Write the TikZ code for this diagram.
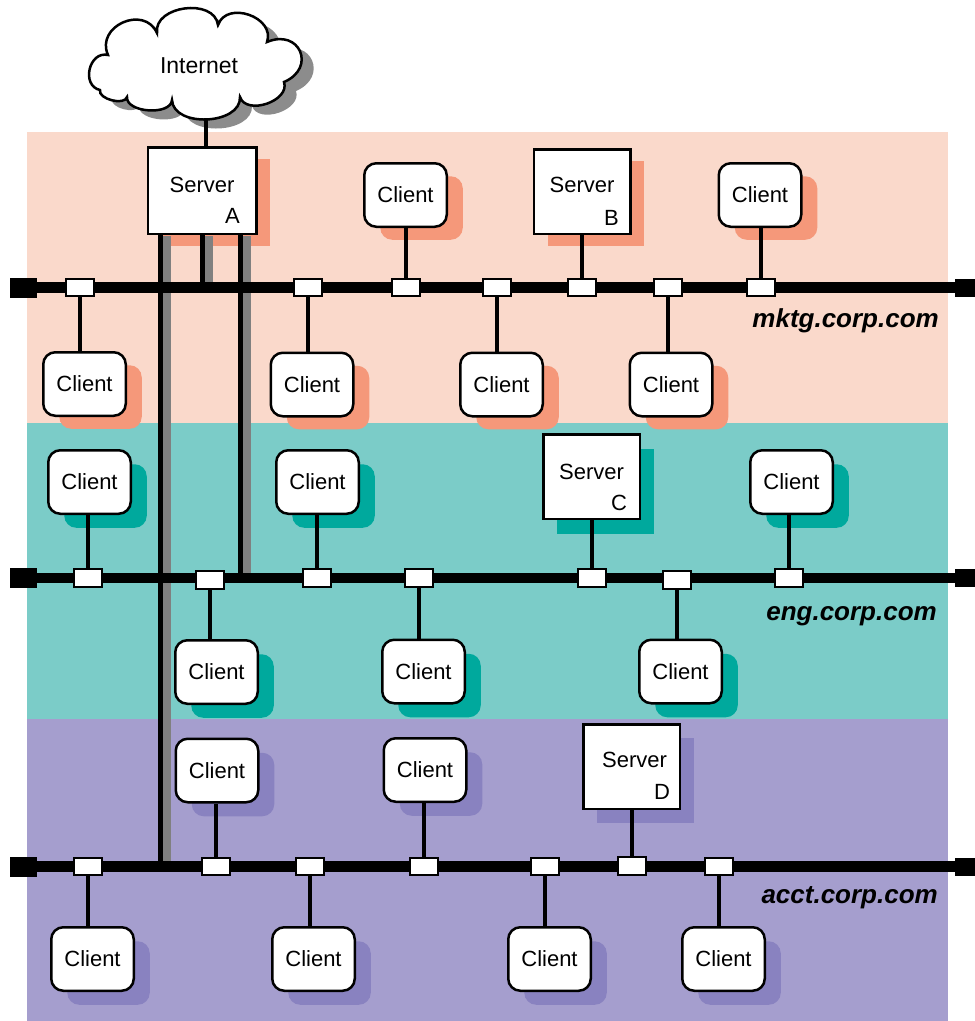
\documentclass[tikz,border=0pt]{standalone}
\usepackage{fontspec}
\setmainfont{Liberation Sans}
\usetikzlibrary{shadows,calc}
\pgfdeclarelayer{bg}
\pgfdeclarelayer{lines}
\pgfdeclarelayer{top}
\pgfsetlayers{bg,main,lines,top}
\definecolor{mbg}{HTML}{FAD9CB}
\definecolor{msh}{HTML}{F5987A}
\definecolor{ebg}{HTML}{7BCCC8}
\definecolor{esh}{HTML}{00A99D}
\definecolor{abg}{HTML}{A59ECE}
\definecolor{ash}{HTML}{8982C0}
\definecolor{glinec}{HTML}{808080}
\definecolor{csh}{HTML}{8C8C8C}
\newcommand\cloudshape{(100,90) to[bend left=90,looseness=1.4] (108,55) to[bend left=90,looseness=1.5] (157,33) to[bend left=90,looseness=1.15] (218,25) to[bend left=90,looseness=1.3] (267,42) to[bend left=90,looseness=2.1] (284,82) to[bend left=90,looseness=1.1] (240,97) to[bend left=90,looseness=1.05] (172,100) to[bend left=90,looseness=0.9] (127,97) to[bend left=90,looseness=0.85] (100,90) -- cycle}
\begin{document}
\begin{tikzpicture}[x=1pt,y=-1pt,
  every node/.style={inner sep=0pt},
  nbox/.style={draw=black, line width=2.5pt, fill=white},
  client/.style={nbox, rounded corners=12pt, minimum width=82.5pt, minimum height=63.5pt, font=\fontsize{22}{26}\selectfont},
  server/.style={nbox, minimum width=96.5pt, minimum height=84.5pt},
  stext/.style={font=\fontsize{22}{26}\selectfont},
  shmk/.style={drop shadow={shadow xshift=16pt, shadow yshift=-13pt, fill=msh, opacity=1}},
  shen/.style={drop shadow={shadow xshift=16pt, shadow yshift=-14pt, fill=esh, opacity=1}},
  shac/.style={drop shadow={shadow xshift=16pt, shadow yshift=-14pt, fill=ash, opacity=1}},
  svmk/.style={drop shadow={shadow xshift=14pt, shadow yshift=-12pt, fill=msh, opacity=1}},
  sven/.style={drop shadow={shadow xshift=14pt, shadow yshift=-15pt, fill=esh, opacity=1}},
  svac/.style={drop shadow={shadow xshift=14pt, shadow yshift=-14pt, fill=ash, opacity=1}},
  tapbox/.style={draw=black, line width=1.7pt, fill=white, minimum width=27.5pt, minimum height=17.5pt},
  capL/.style={fill=black, minimum width=27pt, minimum height=20pt},
  capR/.style={fill=black, minimum width=20pt, minimum height=18pt},
  busline/.style={line width=10.5pt},
  conn/.style={line width=4.5pt},
  blk/.style={line width=5.5pt},
  gry/.style={draw=glinec, line width=7.5pt},
  lbl/.style={font=\fontsize{26}{30}\selectfont\bfseries\itshape, anchor=base east}
]
\useasboundingbox (0,0) rectangle (975,1021);

\begin{pgfonlayer}{bg}
\fill[mbg] (27,132) rectangle (948,423);
\fill[ebg] (27,423) rectangle (948,719);
\fill[abg] (27,719) rectangle (948,1021);
\end{pgfonlayer}

% Internet cloud and server A
\node[server, svmk, minimum width=108.5pt, minimum height=86.5pt] (SA) at (202,190.5) {};
\fill[csh, shift={(12,9)}] \cloudshape;
\coordinate (cb) at (206,100);
\draw[conn] (cb) -- (cb |- SA.north);
\draw[line width=2.5pt, fill=white] \cloudshape;
\node[stext, font=\fontsize{23}{27}\selectfont] (inet) at (199,66) {Internet};

\node[stext] (SAs) at ($(SA.north)+(0,39)$) {Server};
\node[stext] (SAl) at ($(SA.south east)+(-25,-19)$) {A};

% mktg
\node[client, shmk] (C1) at (405.5,195) {Client};
\node[server, svmk] (SB) at (582,191.5) {};
\node[stext] (SBs) at ($(SB.north)+(0,37)$) {Server};
\node[stext] (SBl) at ($(SB.south east)+(-20,-17)$) {B};
\node[client, shmk] (C2) at (760,195) {Client};
\node[client, shmk] (C3) at (84.5,384) {Client};
\node[client, shmk] (C4) at (312,384.5) {Client};
\node[client, shmk] (C5) at (501.5,384.5) {Client};
\node[client, shmk] (C6) at (671,384.5) {Client};

% eng
\node[client, shen] (C7) at (89.5,482) {Client};
\node[client, shen] (C8) at (317.5,482) {Client};
\node[server, sven] (SC) at (591.5,476.5) {};
\node[stext] (SCs) at ($(SC.north)+(0,39)$) {Server};
\node[stext] (SCl) at ($(SC.south east)+(-22,-17)$) {C};
\node[client, shen] (C9) at (791.5,482) {Client};
\node[client, shen] (C10) at (216.5,672) {Client};
\node[client, shen] (C11) at (423.5,671.5) {Client};
\node[client, shen] (C12) at (680.5,671.5) {Client};

% acct
\node[client, shac] (C13) at (217,770.5) {Client};
\node[client, shac] (C14) at (425,770) {Client};
\node[server, svac] (SD) at (631.5,766.5) {};
\node[stext] (SDs) at ($(SD.north)+(3,37)$) {Server};
\node[stext] (SDl) at ($(SD.south east)+(-19,-18)$) {D};
\node[client, shac] (C15) at (92.5,959) {Client};
\node[client, shac] (C16) at (313.5,959) {Client};
\node[client, shac] (C17) at (549.5,959) {Client};
\node[client, shac] (C18) at (723.5,959) {Client};

% labels
\node[lbl] (lm) at (939,327) {mktg.corp.com};
\node[lbl] (le) at (937,620) {eng.corp.com};
\node[lbl] (la) at (938,903.5) {acct.corp.com};

\begin{pgfonlayer}{top}
\node[capL] (mL) at (23.5,287.5) {};
\node[capR] (mR) at (965,287.5) {};
\node[capL] (eL) at (23.5,578) {};
\node[capR] (eR) at (965,578) {};
\node[capL] (aL) at (23.5,866.5) {};
\node[capR] (aR) at (965,866.5) {};
\node[tapbox] (tm1) at (80,287.5) {};
\node[tapbox] (tm2) at (308,287.5) {};
\node[tapbox] (tm3) at (406,287.5) {};
\node[tapbox] (tm4) at (497,287.5) {};
\node[tapbox] (tm5) at (582,287.5) {};
\node[tapbox] (tm6) at (668,287.5) {};
\node[tapbox] (tm7) at (761,287.5) {};
\node[tapbox] (te1) at (88,578) {};
\node[tapbox] (te2) at (210,580) {};
\node[tapbox] (te3) at (317,578) {};
\node[tapbox] (te4) at (419,578) {};
\node[tapbox] (te5) at (592,578) {};
\node[tapbox] (te6) at (677,580) {};
\node[tapbox] (te7) at (789,578) {};
\node[tapbox] (ta1) at (88,866.5) {};
\node[tapbox] (ta2) at (216,866.5) {};
\node[tapbox] (ta3) at (310,866.5) {};
\node[tapbox] (ta4) at (424,866.5) {};
\node[tapbox] (ta5) at (545,866.5) {};
\node[tapbox] (ta6) at (632,866) {};
\node[tapbox] (ta7) at (719,866.5) {};
\end{pgfonlayer}

\begin{pgfonlayer}{lines}
% links from server A
\coordinate (g1) at (160.5,0); \coordinate (g1g) at (167,0);
\coordinate (g2) at (202.5,0); \coordinate (g2g) at (209,0);
\coordinate (g3) at (240.5,0); \coordinate (g3g) at (247,0);
\draw[gry] ([yshift=-1.3pt]g1g |- SA.south) -- (g1g |- aL);
\draw[blk] (g1 |- SA.south) -- (g1 |- aL);
\draw[gry] ([yshift=-1.3pt]g2g |- SA.south) -- (g2g |- mL);
\draw[blk] (g2 |- SA.south) -- (g2 |- mL);
\draw[gry] ([yshift=-1.3pt]g3g |- SA.south) -- (g3g |- eL);
\draw[blk] (g3 |- SA.south) -- (g3 |- eL);
% mktg connectors
\draw[conn] (tm1) -- (tm1 |- C3.north);
\draw[conn] (tm2) -- (tm2 |- C4.north);
\draw[conn] (tm3) -- (tm3 |- C1.south);
\draw[conn] (tm4) -- (tm4 |- C5.north);
\draw[conn] (tm5) -- (tm5 |- SB.south);
\draw[conn] (tm6) -- (tm6 |- C6.north);
\draw[conn] (tm7) -- (tm7 |- C2.south);
% eng connectors
\draw[conn] (te1) -- (te1 |- C7.south);
\draw[conn] (te2) -- (te2 |- C10.north);
\draw[conn] (te3) -- (te3 |- C8.south);
\draw[conn] (te4) -- (te4 |- C11.north);
\draw[conn] (te5) -- (te5 |- SC.south);
\draw[conn] (te6) -- (te6 |- C12.north);
\draw[conn] (te7) -- (te7 |- C9.south);
% acct connectors
\draw[conn] (ta1) -- (ta1 |- C15.north);
\draw[conn] (ta2) -- (ta2 |- C13.south);
\draw[conn] (ta3) -- (ta3 |- C16.north);
\draw[conn] (ta4) -- (ta4 |- C14.south);
\draw[conn] (ta5) -- (ta5 |- C17.north);
\draw[conn] (ta6) -- (ta6 |- SD.south);
\draw[conn] (ta7) -- (ta7 |- C18.north);
% buses
\draw[busline] (mL.center) -- (mR.center);
\draw[busline] (eL.center) -- (eR.center);
\draw[busline] (aL.center) -- (aR.center);
\end{pgfonlayer}
\end{tikzpicture}
\end{document}
